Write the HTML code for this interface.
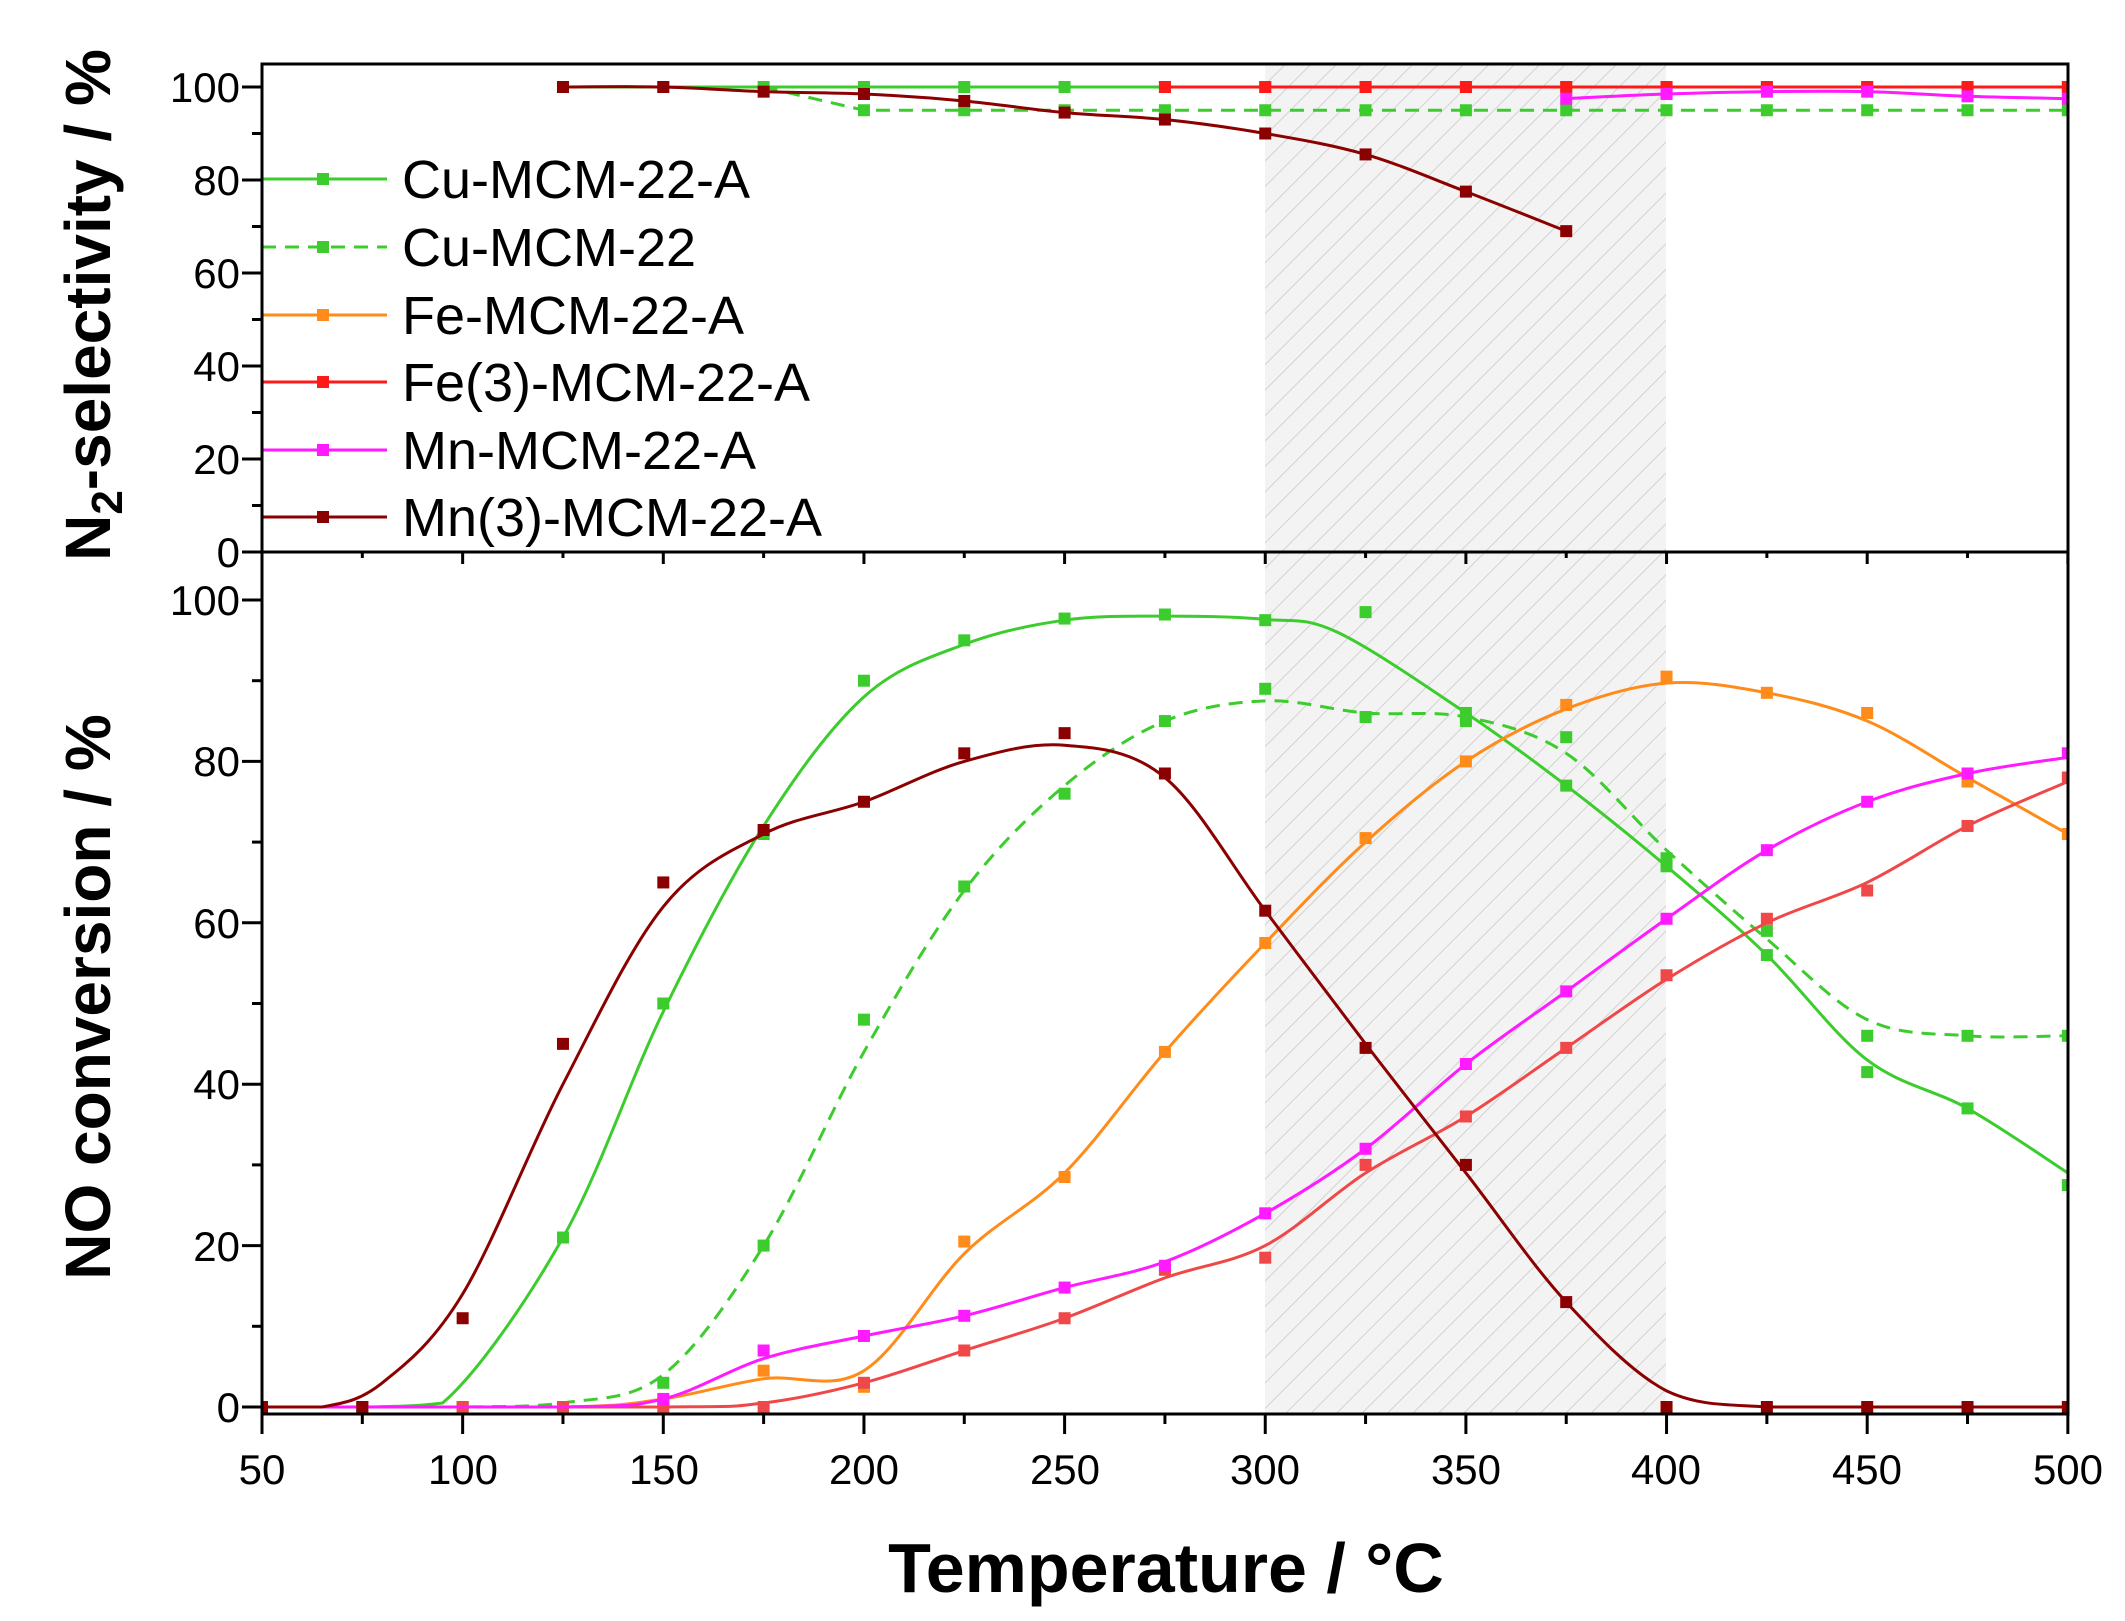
<!DOCTYPE html>
<html><head><meta charset="utf-8"><style>
html,body{margin:0;padding:0;background:#fff}
svg{display:block}
text{font-family:"Liberation Sans",Arial,sans-serif;fill:#000}
</style></head><body>
<svg id="s" width="2125" height="1621" viewBox="0 0 2125 1621" xmlns="http://www.w3.org/2000/svg">
<defs>
<pattern id="h" patternUnits="userSpaceOnUse" width="18" height="18" patternTransform="rotate(45)">
<rect width="18" height="18" fill="#f3f3f3"/>
<line x1="0" y1="0" x2="0" y2="18" stroke="#c8c8c8" stroke-width="1.5"/>
</pattern>
<clipPath id="cb"><rect x="262" y="552" width="1806" height="862"/></clipPath>
<clipPath id="ct"><rect x="262" y="64" width="1806" height="488"/></clipPath>
</defs>
<rect x="1265" y="64" width="401" height="1350" fill="url(#h)"/>
<g id="series"></g>
<g id="legend"></g>
<rect x="262" y="64" width="1806" height="1350" fill="none" stroke="#000" stroke-width="3"/>
<line x1="262" y1="552" x2="2068" y2="552" stroke="#000" stroke-width="3"/>
<g id="ticks" stroke="#000" stroke-width="3"></g>
<g font-size="42" text-anchor="middle">
<text x="262" y="1484">50</text><text x="463" y="1484">100</text><text x="664" y="1484">150</text>
<text x="864" y="1484">200</text><text x="1065" y="1484">250</text><text x="1265" y="1484">300</text>
<text x="1466" y="1484">350</text><text x="1666" y="1484">400</text><text x="1867" y="1484">450</text>
<text x="2068" y="1484">500</text>
</g>
<g font-size="42" text-anchor="end">
<text x="240" y="1422">0</text><text x="240" y="1261">20</text><text x="240" y="1099">40</text>
<text x="240" y="938">60</text><text x="240" y="776">80</text><text x="240" y="615">100</text>
<text x="240" y="567">0</text><text x="240" y="474">20</text><text x="240" y="381">40</text>
<text x="240" y="288">60</text><text x="240" y="195">80</text><text x="240" y="102">100</text>
</g>
<g font-size="54">
<text x="402" y="198">Cu-MCM-22-A</text>
<text x="402" y="266">Cu-MCM-22</text>
<text x="402" y="334">Fe-MCM-22-A</text>
<text x="402" y="401">Fe(3)-MCM-22-A</text>
<text x="402" y="469">Mn-MCM-22-A</text>
<text x="402" y="536">Mn(3)-MCM-22-A</text>
</g>
<text x="1166" y="1592" font-size="70" font-weight="bold" text-anchor="middle">Temperature / °C</text>
<text transform="translate(110,997) rotate(-90)" font-size="64" font-weight="bold" text-anchor="middle">NO conversion / %</text>
<text transform="translate(110,305) rotate(-90)" font-size="64" font-weight="bold" text-anchor="middle">N<tspan font-size="44" dy="12">2</tspan><tspan dy="-12">-selectivity / %</tspan></text>
</svg>
<script>
var NS="http://www.w3.org/2000/svg";
function X(v){return 262+(v-50)*4.013}
function YB(v){return 1407-v*8.07}
function YT(v){return 552-v*4.65}
function el(t,a,p){var e=document.createElementNS(NS,t);for(var k in a)e.setAttribute(k,a[k]);p.appendChild(e);return e}
var T=[50,75,100,125,150,175,200,225,250,275,300,325,350,375,400,425,450,475,500];
function cr(pts,ymax){var d="M"+pts[0][0]+","+pts[0][1];
 function c(y){return Math.min(y,ymax)}
 for(var i=0;i<pts.length-1;i++){var p0=pts[i-1]||pts[i],p1=pts[i],p2=pts[i+1],p3=pts[i+2]||p2;
 var c1=[p1[0]+(p2[0]-p0[0])/6,c(p1[1]+(p2[1]-p0[1])/6)],c2=[p2[0]-(p3[0]-p1[0])/6,c(p2[1]-(p3[1]-p1[1])/6)];
 d+=" C"+c1+" "+c2+" "+p2;}return d}
function lin(pts){return "M"+pts.map(function(p){return p.join(",")}).join(" L")}
var g=document.getElementById("series");
function ser(xs,ys,Y,col,dash,smooth,clip,curvePts){
 var pts=xs.map(function(x,i){return [X(x),Y(ys[i])]});
 var cp=curvePts?curvePts.map(function(p){return [X(p[0]),Y(p[1])]}):pts;
 var a={d:smooth?cr(cp,Y(0)):lin(cp),fill:"none",stroke:col,"stroke-width":3,"clip-path":"url(#"+clip+")"};
 if(dash)a["stroke-dasharray"]="14,9";
 el("path",a,g);
 pts.forEach(function(p){el("rect",{x:p[0]-6,y:p[1]-6,width:12,height:12,fill:col,"clip-path":"url(#"+clip+")"},g)});
}
var GR="#3ccc2e",OR="#ff8c1a",RD="#ff1a1a",MG="#ff1aff",DR="#8b0000",LR="#f04848";
ser(T.slice(3),T.slice(3).map(function(){return 100}),YT,GR,false,false,"ct");
ser(T.slice(6),T.slice(6).map(function(){return 95}),YT,GR,true,false,"ct",[[175,100]].concat(T.slice(6).map(function(t){return [t,95]})));
ser(T.slice(9),T.slice(9).map(function(){return 100}),YT,RD,false,false,"ct");
ser([375,400,425,450,475,500],[97.5,98.5,99,99,98,97.5],YT,MG,false,true,"ct");
ser([125,150,175,200,225,250,275,300,325,350,375],[100,100,99,98.5,97,94.5,93,90,85.5,77.5,69],YT,DR,false,true,"ct");
ser(T,[0,0,0,21,50,71,90,95,97.7,98.2,97.5,98.5,85,77,67,56,41.5,37,27.5],YB,GR,false,true,"cb",
 [[50,0],[75,0],[95,0.5],[125,21],[150,49],[175,72],[200,88],[225,94.5],[250,97.5],[275,98],[300,97.6],[318,96],[350,86],[375,77],[400,67],[425,56],[450,43],[475,37],[500,29]]);
ser(T,[0,0,0,0,3,20,48,64.5,76,85,89,85.5,86,83,68,59,46,46,46],YB,GR,true,true,"cb",
 [[50,0],[100,0],[125,0.5],[150,4],[175,20],[200,44],[225,64],[250,77],[275,85],[300,87.5],[325,86],[350,85.5],[375,81],[400,69],[425,58],[450,48],[475,46],[500,46]]);
ser([150,175,200,225,250,275,300,325,350,375,400,425,450,475,500],[0.5,4.5,2.5,20.5,28.5,44,57.5,70.5,80,87,90.5,88.5,86,77.5,71],YB,OR,false,true,"cb",
 [[50,0],[125,0],[150,1],[175,3.5],[200,4.5],[225,19],[250,29],[275,44],[300,57.5],[325,70],[350,80],[375,86.5],[400,89.7],[425,88.5],[450,85],[475,78],[500,71]]);
ser(T,[0,0,0,0,0,0,3,7,11,17,18.5,30,36,44.5,53.5,60.5,64,72,78],YB,LR,false,true,"cb",
 [[50,0],[150,0],[175,0.5],[200,3],[225,7],[250,11],[275,16],[300,20],[325,29],[350,36],[375,44.5],[400,53],[425,60],[450,65],[475,72],[500,77.5]]);
ser([150,175,200,225,250,275,300,325,350,375,400,425,450,475,500],[1,7,8.8,11.3,14.8,17.5,24,32,42.5,51.5,60.5,69,75,78.5,81],YB,MG,false,true,"cb",
 [[50,0],[125,0],[150,1],[175,6],[200,8.8],[225,11.3],[250,14.8],[275,18],[300,24],[325,32],[350,42.5],[375,51.5],[400,60.5],[425,69],[450,75],[475,78.5],[500,80.5]]);
ser(T,[0,0,11,45,65,71.5,75,81,83.5,78.5,61.5,44.5,30,13,0,0,0,0,0],YB,DR,false,true,"cb",
 [[50,0],[65,0],[80,3],[100,14],[125,40],[150,62],[175,71],[200,75],[225,80],[250,82],[275,78],[300,61.5],[325,45],[350,29],[375,13],[400,2],[425,0],[450,0],[475,0],[500,0]]);
var lg=document.getElementById("legend");
var L=[[179,GR,0],[247,GR,1],[315,OR,0],[382,RD,0],[450,MG,0],[517,DR,0]];
L.forEach(function(l){var a={x1:262,y1:l[0],x2:387,y2:l[0],stroke:l[1],"stroke-width":3};if(l[2])a["stroke-dasharray"]="14,9";el("line",a,lg);
 el("rect",{x:317,y:l[0]-6,width:12,height:12,fill:l[1]},lg)});
var tk=document.getElementById("ticks");
for(var v=50;v<=500;v+=25){var x=X(v),L2=(v%50==0)?20:10;
 el("line",{x1:x,y1:1414,x2:x,y2:1414+L2},tk);el("line",{x1:x,y1:552,x2:x,y2:552+L2*0.6},tk);}
for(var v=0;v<=100;v+=10){var L3=(v%20==0)?20:10;
 el("line",{x1:262,y1:YB(v),x2:262-L3,y2:YB(v)},tk);el("line",{x1:262,y1:YT(v),x2:262-L3,y2:YT(v)},tk);}
</script>
</body></html>
